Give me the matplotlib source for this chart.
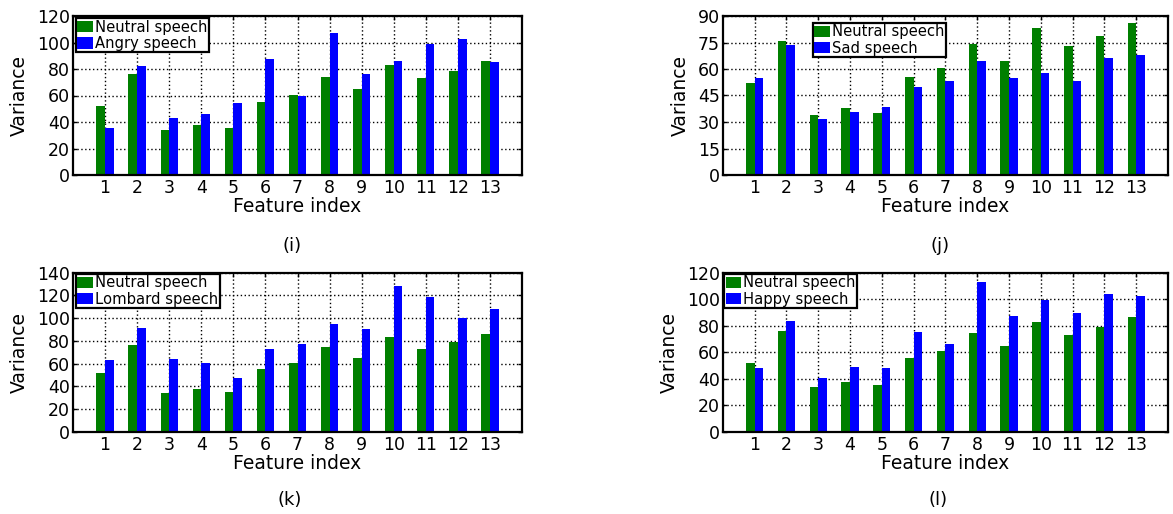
import matplotlib
matplotlib.use("Agg")
import matplotlib.pyplot as plt
import numpy as np

plt.rcParams['font.family'] = ['DejaVu Sans']

features = list(range(1, 14))
neutral = [52, 76, 33.7, 37.7, 35.2, 55.3, 60.6, 74.2, 64.7, 83, 73, 78.7, 86.3]
angry = [35.7, 82, 43.3, 45.8, 54, 87.8, 59.6, 107, 76, 86.3, 98.9, 102.4, 85]
sad = [55.1, 73.7, 31.5, 35.5, 38.5, 49.8, 53, 64.3, 54.7, 57.5, 53.2, 66.2, 67.9]
lombard = [63.1, 91, 63.7, 60.8, 47, 72.8, 77.2, 94.5, 90.1, 128.3, 118.9, 100.4, 107.7]
happy = [47.8, 83.3, 40.3, 49, 47.8, 75, 66, 112.7, 87.3, 99.2, 89.3, 103.9, 102.4]

panels = [
    ("Angry speech", angry, 120, 20, "(i)"),
    ("Sad speech", sad, 90, 15, "(j)"),
    ("Lombard speech", lombard, 140, 20, "(k)"),
    ("Happy speech", happy, 120, 20, "(l)"),
]

W, H = 1173, 514
fig = plt.figure(figsize=(W / 100, H / 100), dpi=100)

# axes rectangles in pixels: left, top, right, bottom
rects = [(73, 16, 522, 175), (722.7, 16, 1168, 175),
         (73, 272.7, 522, 431.7), (722.7, 272.7, 1168, 431.7)]
leg_anchor = [(0.0067, 0.987), (0.202, 0.956), (0.0067, 0.992), (0.003, 0.992)]
label_pos = [(292, 246), (940, 246), (290, 500), (938, 500)]

green = '#007f00'
blue = '#0000ff'
x = np.array(features)
w = 0.27

for i, (name, vals, ymax, ystep, tag) in enumerate(panels):
    l, t, r, b = rects[i]
    ax = fig.add_axes([l / W, (H - b) / H, (r - l) / W, (b - t) / H])
    ax.set_axisbelow(True)
    ax.bar(x - w / 2, neutral, width=w, color=green, label='Neutral speech', edgecolor='none')
    ax.bar(x + w / 2, vals, width=w, color=blue, label=name, edgecolor='none')
    ax.set_xlim(0, 14)
    ax.set_ylim(0, ymax)
    ax.set_xticks(features)
    ax.set_yticks(np.arange(0, ymax + 1, ystep))
    ax.grid(True, color='black', linestyle=(0, (1.0, 1.8)), linewidth=1.0)
    for s in ax.spines.values():
        s.set_linewidth(1.6)
    ax.tick_params(direction='in', length=3, width=1, top=True, right=True,
                   labelsize=12.5)
    ax.tick_params(axis='x', pad=3)
    ax.tick_params(axis='y', pad=2)
    ax.set_xlabel('Feature index', fontsize=13.5, labelpad=0)
    ax.set_ylabel('Variance', fontsize=13.5, labelpad=6)
    leg = ax.legend(loc='upper left', bbox_to_anchor=leg_anchor[i], borderaxespad=0,
                    fontsize=10.6, frameon=True, fancybox=False, framealpha=1,
                    handlelength=1.05, handleheight=0.8, handletextpad=0.15,
                    borderpad=0.1, labelspacing=0.1)
    leg.get_frame().set_edgecolor('black')
    leg.get_frame().set_linewidth(1.6)
    fx, fy = label_pos[i]
    fig.text(fx / W, 1 - fy / H, tag, ha='center', va='center', fontsize=13)

fig.savefig('out.png', dpi=100)
